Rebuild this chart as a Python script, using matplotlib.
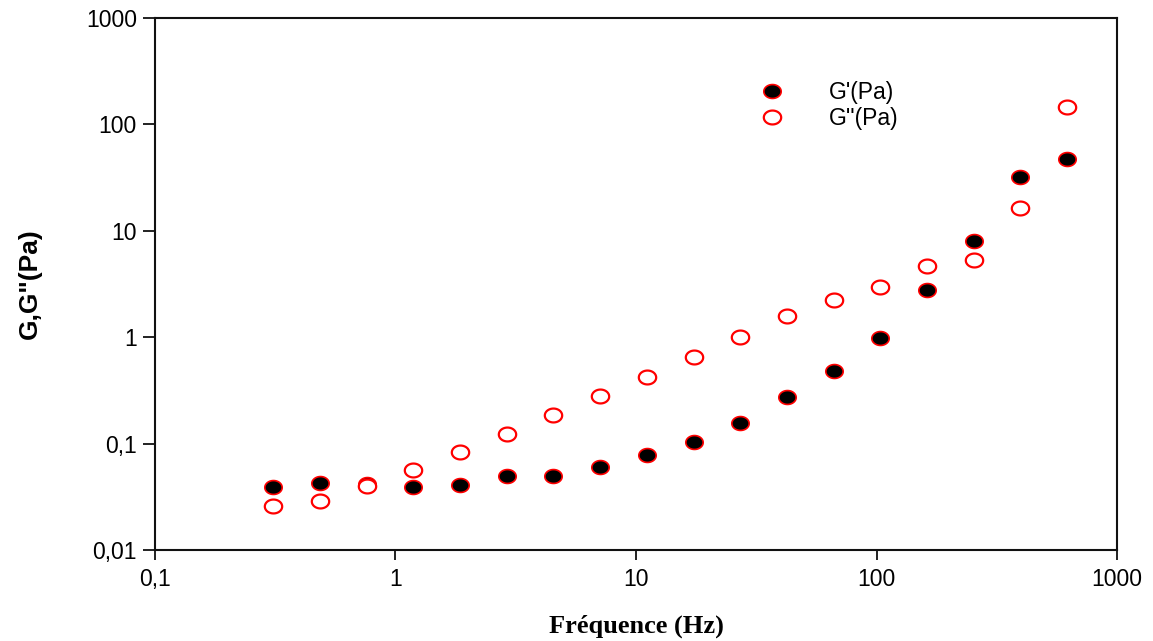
import matplotlib
matplotlib.use("Agg")
import matplotlib.pyplot as plt
import numpy as np
from matplotlib.path import Path
from matplotlib.ticker import FixedLocator, FixedFormatter, NullLocator

freq = [0.31, 0.485, 0.76, 1.18, 1.855, 2.91, 4.52, 7.08, 11.1, 17.4, 27.1, 42.4,
        66.6, 103.4, 162, 254, 395, 620]
g_prime = [0.039, 0.0427, 0.042, 0.039, 0.0408, 0.0496, 0.0496, 0.0603, 0.078, 0.1035,
           0.156, 0.274, 0.481, 0.98, 2.78, 8.0, 32, 47.3]
g_double = [0.026, 0.0289, 0.040, 0.0565, 0.0834, 0.123, 0.186, 0.28, 0.423, 0.652,
            1.0, 1.58, 2.24, 2.96, 4.67, 5.32, 16.4, 146]

xticks = [0.1, 1, 10, 100, 1000]
xticklabels = ["0,1", "1", "10", "100", "1000"]
yticks = [0.01, 0.1, 1, 10, 100, 1000]
yticklabels = ["0,01", "0,1", "1", "10", "100", "1000"]

# ellipse marker (source image is slightly stretched horizontally)
t = np.linspace(0, 2 * np.pi, 60)
ell = Path(np.column_stack([np.cos(t), 0.8 * np.sin(t)]), closed=True)

fig = plt.figure(figsize=(11.53, 6.41), dpi=100)
ax = fig.add_axes([0.1344, 0.1420, 0.8344, 0.8299])
ax.set_xscale("log")
ax.set_yscale("log")
ax.set_xlim(0.1, 1000)
ax.set_ylim(0.01, 1000)

ax.plot(freq, g_prime, linestyle="none", marker=ell, markersize=12.5,
        markerfacecolor="black", markeredgecolor="red", markeredgewidth=1.2,
        label="G'(Pa)")
ax.plot(freq, g_double, linestyle="none", marker=ell, markersize=12.5,
        markerfacecolor="white", markeredgecolor="red", markeredgewidth=1.6,
        label="G''(Pa)")

ax.xaxis.set_major_locator(FixedLocator(xticks))
ax.xaxis.set_major_formatter(FixedFormatter(xticklabels))
ax.yaxis.set_major_locator(FixedLocator(yticks))
ax.yaxis.set_major_formatter(FixedFormatter(yticklabels))
ax.xaxis.set_minor_locator(NullLocator())
ax.yaxis.set_minor_locator(NullLocator())

for s in ax.spines.values():
    s.set_linewidth(1.5)
    s.set_color("#111111")
ax.tick_params(axis="both", which="major", direction="out", width=1.3,
               labelsize=16.5, colors="#111111", labelcolor="black")
ax.tick_params(axis="y", length=9, pad=4)
ax.tick_params(axis="x", length=7, pad=6)
for lab in ax.get_xticklabels() + ax.get_yticklabels():
    lab.set_family("Liberation Sans")

ax.set_xlabel("Fréquence (Hz)", family="Liberation Serif", fontweight="bold",
              fontsize=19, labelpad=17)
ax.set_ylabel("G,G\"(Pa)", family="Liberation Sans", fontweight="bold",
              fontsize=19, labelpad=32)

leg = ax.legend(loc="upper left", bbox_to_anchor=(0.620, 0.898), frameon=False,
                prop={"family": "Liberation Sans", "size": 16.5},
                handletextpad=2.0, labelspacing=0.1, handlelength=1.0,
                borderaxespad=0.0)

fig.savefig("out.png", dpi=100)
